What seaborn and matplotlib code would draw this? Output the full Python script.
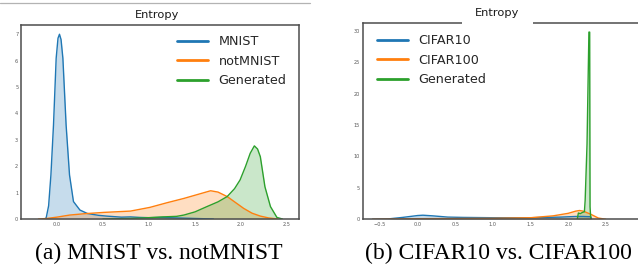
import numpy as np
import seaborn as sns
import matplotlib.pyplot as plt
from matplotlib.lines import Line2D
from matplotlib.patches import Rectangle

# Entropy density curves
# (a) MNIST vs. notMNIST
mnist_x = [-0.13, -0.116, -0.09, -0.065, -0.037, -0.008, 0.012, 0.028, 0.045, 0.065,
           0.10, 0.137, 0.18, 0.25, 0.33, 0.45, 0.54, 0.7, 0.8, 0.9, 1.0, 1.15, 1.3, 1.5, 1.7]
mnist_y = [0.0, 0.05, 0.5, 1.67, 3.56, 6.09, 6.85, 7.0, 6.8, 6.09,
           3.56, 1.67, 0.66, 0.34, 0.21, 0.14, 0.11, 0.07, 0.08, 0.06, 0.05, 0.06, 0.04, 0.02, 0.0]
notmnist_x = [-0.2, -0.11, 0.0, 0.14, 0.3, 0.51, 0.8, 1.01, 1.2, 1.38, 1.55, 1.67, 1.75,
              1.85, 1.95, 2.03, 2.12, 2.21, 2.3, 2.4]
notmnist_y = [0.0, 0.02, 0.07, 0.15, 0.2, 0.25, 0.30, 0.44, 0.62, 0.78, 0.95, 1.07, 1.02,
              0.85, 0.6, 0.40, 0.22, 0.11, 0.04, 0.0]
gen_a_x = [0.5, 0.8, 1.0, 1.15, 1.3, 1.38, 1.5, 1.63, 1.75, 1.85, 1.93, 1.99, 2.05, 2.10,
           2.145, 2.18, 2.21, 2.26, 2.32, 2.39, 2.45]
gen_a_y = [0.0, 0.02, 0.05, 0.08, 0.1, 0.15, 0.27, 0.47, 0.65, 0.85, 1.15, 1.48, 2.0, 2.49,
           2.77, 2.65, 2.36, 1.22, 0.47, 0.06, 0.0]

# (b) CIFAR10 vs. CIFAR100
cifar10_x = [-0.6, -0.4, -0.2, 0.0, 0.07, 0.2, 0.4, 0.6, 1.0, 1.5, 1.9, 2.1, 2.2, 2.3, 2.31]
cifar10_y = [0.0, 0.05, 0.3, 0.6, 0.65, 0.55, 0.35, 0.3, 0.25, 0.25, 0.35, 0.45, 0.45, 0.4, 0.0]
cifar100_x = [-0.6, -0.3, 0.0, 0.5, 1.0, 1.5, 1.8, 2.0, 2.1, 2.15, 2.2, 2.3, 2.4, 2.5]
cifar100_y = [0.0, 0.05, 0.1, 0.12, 0.15, 0.25, 0.55, 0.95, 1.3, 1.4, 1.3, 0.8, 0.2, 0.0]
gen_b_x = [2.12, 2.135, 2.16, 2.19, 2.215, 2.225, 2.25, 2.275, 2.285, 2.29, 2.30]
gen_b_y = [0.0, 1.0, 0.9, 1.1, 1.2, 3.0, 12.0, 29.8, 29.8, 2.0, 0.0]

panels = [
    dict(series=[("MNIST", mnist_x, mnist_y), ("notMNIST", notmnist_x, notmnist_y),
                 ("Generated", gen_a_x, gen_a_y)],
         xticks=[0.0, 0.5, 1.0, 1.5, 2.0, 2.5], yticks=list(range(8)),
         caption="(a) MNIST vs. notMNIST"),
    dict(series=[("CIFAR10", cifar10_x, cifar10_y), ("CIFAR100", cifar100_x, cifar100_y),
                 ("Generated", gen_b_x, gen_b_y)],
         xticks=[-0.5, 0.0, 0.5, 1.0, 1.5, 2.0, 2.5], yticks=[0, 5, 10, 15, 20, 25, 30],
         caption="(b) CIFAR10 vs. CIFAR100"),
]

sns.set_style("white", {"axes.edgecolor": ".3"})
plt.rcParams['font.family'] = ['DejaVu Sans']
colors = sns.color_palette("tab10", 3)

fig = plt.figure(figsize=(6.38, 2.64), dpi=100)
W, H = 638, 264
ax_a = fig.add_axes([21 / W, 1 - 219 / H, 278 / W, 194 / H])
ax_b = fig.add_axes([362.7 / W, 1 - 219.3 / H, 282.3 / W, 196 / H])

for ax, p in zip([ax_a, ax_b], panels):
    for (name, xs, ys), c in zip(p["series"], colors):
        sns.lineplot(x=xs, y=ys, sort=False, estimator=None, ax=ax, color=c, lw=1.0, label=name)
        ax.fill_between(xs, ys, color=c, alpha=0.25, lw=0)
    ax.set_xticks(p["xticks"])
    ax.set_yticks(p["yticks"])
    ax.tick_params(labelsize=3.6, labelcolor=".35", pad=2, length=0)
    for s in ax.spines.values():
        s.set_linewidth(1.1)

ax_a.set_xlim(-0.39, 2.63)
ax_a.set_ylim(0, 7.35)
ax_b.set_xlim(-0.73, 3.02)
ax_b.set_ylim(0, 31.2)

leg_kw = dict(frameon=False, fontsize=9.2, handlelength=2.4, handletextpad=0.85,
              labelspacing=0.52, borderpad=0, borderaxespad=0, loc="upper left")
for ax, (lx, ly) in [(ax_a, (177, 35)), (ax_b, (377, 34))]:
    leg = ax.legend(bbox_to_anchor=(lx / W, 1 - ly / H), bbox_transform=fig.transFigure, **leg_kw)
    for h in leg.get_lines():
        h.set_linewidth(2.0)

# titles
fig.text(157 / W, 1 - 15 / H, "Entropy", ha="center", va="center", fontsize=8.2, color=".1")
fig.add_artist(Rectangle((462 / W, 1 - 25 / H), 71 / W, 4 / H, transform=fig.transFigure,
                         facecolor="white", edgecolor="none", zorder=5))
fig.text(497 / W, 1 - 13 / H, "Entropy", ha="center", va="center", fontsize=8.2, color=".1")

# thin rule over the left panel
fig.add_artist(Line2D([0, 310 / W], [1 - 3 / H, 1 - 3 / H], color=".7", lw=0.9))

# sub-captions
for p, cx in zip(panels, [159 / W, 498 / W]):
    fig.text(cx, 1 - 259.5 / H, p["caption"], ha="center", va="baseline",
             fontsize=17, family="Liberation Serif", color="black")

fig.savefig("out.png", dpi=100)
